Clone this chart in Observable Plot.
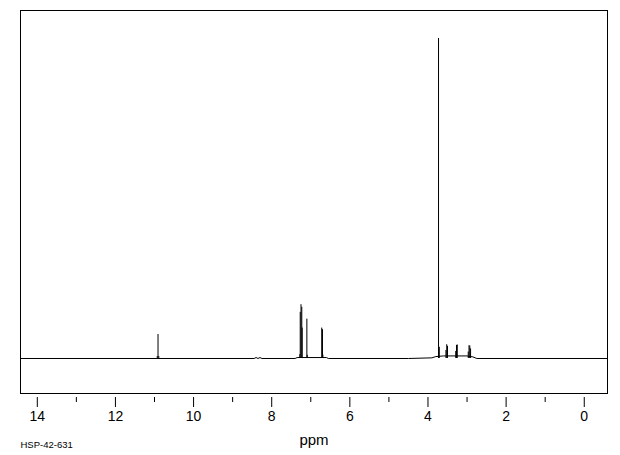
<!DOCTYPE html>
<html>
<head>
<meta charset="utf-8">
<script src="https://cdn.jsdelivr.net/npm/d3@7"></script>
<script src="https://cdn.jsdelivr.net/npm/@observablehq/plot@0.6"></script>
<style>
  html, body { margin: 0; padding: 0; background: #fff; }
  #chart svg { display: block; }
</style>
</head>
<body>
<div id="chart"></div>
<script>
// Peak positions (ppm) and intensities (relative units, tallest = 100)
const peakPpm = [10.93, 10.91, 10.89, 7.28, 7.27, 7.25, 7.23, 7.22, 7.10, 7.09, 6.72, 6.70, 6.69,
                 3.73, 3.71, 3.54, 3.52, 3.50, 3.29, 3.27, 3.25, 2.97, 2.95, 2.93, 2.91];
const peakHeight = [0.6, 7.5, 0.6, 1.2, 14.4, 16.8, 16.0, 9.5, 12.3, 1.0, 9.5, 9.0, 1.0,
                    100, 3.5, 2.5, 4.3, 3.8, 2.2, 4.1, 4.2, 2.0, 4.0, 3.9, 3.0];

// Baseline trace (ppm, intensity)
const basePpm = [14.43, 8.45, 8.40, 8.35, 8.30, 8.25, 7.40, 7.35, 6.60, 6.55, 4.50, 3.90, 3.80, 3.60, 3.00, 2.85, 2.75, -0.595];
const baseVal = [0, 0, 0.3, 0, 0.3, 0, 0, 0.3, 0.3, 0, 0, 0.2, 0.6, 0.8, 0.8, 0.5, 0, 0];

// Axis ticks
const majorTicks = [14, 12, 10, 8, 6, 4, 2, 0];
const minorTicks = [13, 11, 9, 7, 5, 3, 1];

const peaks = peakPpm.map((p, i) => ({ppm: p, h: peakHeight[i]}));
const base = basePpm.map((p, i) => ({ppm: p, v: baseVal[i]}));

const chart = Plot.plot({
  width: 620,
  height: 455,
  marginLeft: 20,
  marginRight: 13,
  marginTop: 10,
  marginBottom: 62,
  style: {fontFamily: "'Liberation Sans', Arial, sans-serif", background: "#fff", color: "#000"},
  x: {domain: [14.43, -0.595]},
  y: {domain: [-10.94, 108.75], axis: null},
  marks: [
    Plot.frame({stroke: "#000", strokeWidth: 1}),
    Plot.line(base, {x: "ppm", y: "v", stroke: "#000", strokeWidth: 1}),
    Plot.ruleX(peaks, {x: "ppm", y1: 0, y2: "h", stroke: "#000", strokeWidth: 1}),
    Plot.axisX({ticks: majorTicks, tickSize: 10, tickPadding: 4, dy: 4, fontSize: 14, label: null, tickFormat: d => String(d), stroke: "#000"}),
    Plot.axisX({ticks: minorTicks, tickSize: 5, dy: 4, text: null, label: null, stroke: "#000"}),
    Plot.text(["ppm"], {frameAnchor: "bottom", dy: 51, fontSize: 15, fill: "#000"}),
    Plot.text(["HSP-42-631"], {frameAnchor: "bottom-left", textAnchor: "start", dy: 54, fontSize: 9.5, fill: "#000"})
  ]
});
document.getElementById("chart").appendChild(chart);
</script>
</body>
</html>
